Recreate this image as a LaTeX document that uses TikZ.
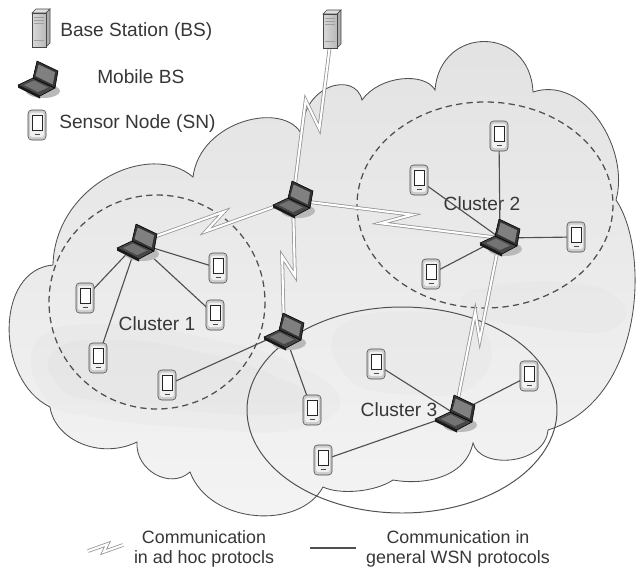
\documentclass[tikz,border=0pt]{standalone}
\usepackage{fontspec}
\setmainfont{Liberation Sans}
\usetikzlibrary{calc}
\definecolor{inkgray}{RGB}{55,55,55}
\definecolor{linkgray}{RGB}{80,80,80}
\definecolor{cloudtop}{RGB}{226,226,226}
\definecolor{cloudbottom}{RGB}{244,244,244}

% lightning style link between two named points
\newcommand{\adhoclink}[3][4pt]{%
  \draw[adhoc] (#2) -- ($(#2)!0.57!(#3)!#1!90:(#3)$)
    -- ($(#2)!0.43!(#3)!#1!-90:(#3)$) -- (#3);}

\begin{document}
\begin{tikzpicture}[x=0.025cm, y=-0.025cm,
    lbl/.style={font=\fontsize{13.6}{16}\selectfont, text=inkgray, inner sep=0pt},
    note/.style={font=\fontsize{12.7}{13.8}\selectfont, text=inkgray, align=center, inner sep=0pt},
    wsn/.style={draw=linkgray, line width=0.8pt},
    adhoc/.style={draw=gray!85, double=white, double distance=1.5pt, line width=0.55pt},
    cluster/.style={draw=linkgray, line width=0.9pt, dash pattern=on 4.5pt off 3pt},
    haze/.style={fill=gray!45, opacity=#1},
    sensornode/.pic={
        \draw[gray!60!black, fill=gray!40, rounded corners=2.5pt] (-9,-15) rectangle (9,15);
        \fill[gray!12, rounded corners=1.5pt] (-6.8,-12.5) rectangle (6.8,12);
        \draw[black!85, fill=white, line width=0.65pt] (-5,-10) rectangle (5,5.5);
        \draw[gray!60!black] (-2.5,9) -- (2.5,9);
    },
    mobilebs/.pic={
        \fill[gray!55] (5,11) ellipse [x radius=17, y radius=7];
        \draw[black, fill=black!72, line join=round] (-20,5) -- (-5,-2) -- (17,8) -- (2,16) -- cycle;
        \fill[black!90] (-20,5) -- (2,16) -- (2,18.5) -- (-20,7.5) -- cycle;
        \fill[black!55] (-14,5) -- (-4,0.5) -- (10,7.5) -- (0,12) -- cycle;
        \draw[black, fill=black!80, line join=round] (-5,-2) -- (-1,-19) -- (20,-9) -- (17,8) -- cycle;
        \fill[black!50] (-2.5,-4) -- (0.6,-15.5) -- (17,-7.8) -- (14.8,4.5) -- cycle;
    },
    basestation/.pic={
        \draw[gray!55!black, fill=gray!25] (-9,-15) -- (-5,-19) -- (9,-19) -- (5,-15) -- cycle;
        \draw[gray!55!black, fill=gray!65] (5,-15) -- (9,-19) -- (9,15) -- (5,19) -- cycle;
        \draw[gray!55!black, left color=gray!30, right color=gray!55] (-9,-15) rectangle (5,19);
        \draw[gray!75] (-7,-11) -- (3,-11) (-7,-8) -- (3,-8) (-7,-5) -- (3,-5) (-7,12) -- (3,12);
    }
]
    \fill[white] (0,0) rectangle (638,580);
    \useasboundingbox (0,0) rectangle (638,580);

    % cloud
    \draw[linkgray, line width=0.6pt, top color=cloudtop, bottom color=cloudbottom]
        (53,265) .. controls (55,185) and (150,140) .. (193,177)
        .. controls (200,120) and (285,100) .. (302,135)
        .. controls (300,85) and (355,70) .. (362,100)
        .. controls (380,75) and (425,72) .. (435,90)
        .. controls (440,25) and (530,25) .. (533,92)
        .. controls (585,75) and (630,150) .. (616,200)
        .. controls (650,250) and (645,400) .. (548,430)
        .. controls (545,465) and (480,470) .. (473,443)
        .. controls (465,480) and (420,485) .. (393,480)
        .. controls (375,492) and (340,495) .. (323,487)
        .. controls (300,530) and (210,525) .. (190,472)
        .. controls (170,490) and (135,470) .. (137,442)
        .. controls (100,460) and (55,440) .. (50,407)
        .. controls (-5,380) and (-5,270) .. (53,265) -- cycle;
    \fill[haze=0.08] plot[smooth cycle, tension=0.8] coordinates
        {(40,338) (120,324) (205,338) (285,360) (340,400) (292,430) (200,428) (100,418) (45,398)};
    \fill[haze=0.1] plot[smooth cycle, tension=0.8] coordinates
        {(55,350) (120,340) (200,352) (270,374) (315,400) (285,414) (200,412) (105,402) (60,388)};
    \fill[haze=0.08] plot[smooth cycle, tension=0.8] coordinates
        {(340,326) (420,312) (485,332) (474,386) (400,394) (346,376)};
    \fill[haze=0.08] plot[smooth cycle, tension=0.8] coordinates
        {(470,292) (560,282) (620,300) (610,330) (540,328) (480,315)};

    % clusters
    \draw[cluster] (157,302) ellipse [x radius=108, y radius=107];
    \draw[cluster] (485,205) ellipse [x radius=128, y radius=103];
    \draw[linkgray, line width=0.7pt] (402,410) ellipse [x radius=155, y radius=103];

    \node[lbl] (c1) at (157,324) {Cluster 1};
    \node[lbl] (c2) at (482,204) {Cluster 2};
    \node[lbl] (c3) at (399,410) {Cluster 3};

    % devices
    \coordinate (bs) at (332,29);
    \coordinate (l0) at (293,200);
    \coordinate (l1) at (137,243);
    \coordinate (l2) at (500,238);
    \coordinate (l3) at (284,332);
    \coordinate (l4) at (455,414);
    \coordinate (s1a) at (218,268);
    \coordinate (s1b) at (85,298);
    \coordinate (s1c) at (215,315);
    \coordinate (s1d) at (98,358);
    \coordinate (s1e) at (167,385);
    \coordinate (s2a) at (499,136);
    \coordinate (s2b) at (419,180);
    \coordinate (s2c) at (576,237);
    \coordinate (s2d) at (431,274);
    \coordinate (s3a) at (312,410);
    \coordinate (s3b) at (376,364);
    \coordinate (s3c) at (529,376);
    \coordinate (s3d) at (323,460);

    \foreach \s in {s1a,s1b,s1c,s1d} \draw[wsn] (l1) -- (\s);
    \foreach \s in {s2a,s2b,s2c,s2d} \draw[wsn] (l2) -- (\s);
    \foreach \s in {s3b,s3c,s3d} \draw[wsn] (l4) -- (\s);
    \draw[wsn] (l3) -- (s1e);
    \draw[wsn] (l3) -- (s3a);

    \adhoclink[7pt]{bs}{l0}
    \adhoclink[5pt]{l1}{l0}
    \adhoclink[5pt]{l0}{l2}
    \adhoclink[5pt]{l0}{l3}
    \adhoclink[4pt]{l2}{l4}

    \pic at (bs) {basestation};
    \foreach \l in {l0,l1,l2,l3,l4} \pic at (\l) {mobilebs};
    \foreach \s in {s1a,s1b,s1c,s1d,s1e,s2a,s2b,s2c,s2d,s3a,s3b,s3c,s3d}
        \pic at (\s) {sensornode};

    % legend
    \coordinate (keybs) at (41,28);
    \coordinate (keyl) at (38,80);
    \coordinate (keys) at (37,125);
    \pic at (keybs) {basestation};
    \pic at (keyl) {mobilebs};
    \pic at (keys) {sensornode};
    \node[lbl, anchor=west] (tbs) at (60,32) {Base Station (BS)};
    \node[lbl, anchor=west] (tl) at (97,77) {Mobile BS};
    \node[lbl, anchor=west] (ts) at (59,124) {Sensor Node (SN)};

    \coordinate (zz1) at (88,551);
    \coordinate (zz2) at (123,545);
    \adhoclink[2.5pt]{zz1}{zz2}
    \coordinate (ln1) at (310,548);
    \coordinate (ln2) at (356,548);
    \draw[wsn] (ln1) -- (ln2);
    \node[note] (tadhoc) at (204,549) {Communication\\in ad hoc protocls};
    \node[note] (twsn) at (458,549) {Communication in\\general WSN protocols};
\end{tikzpicture}
\end{document}
